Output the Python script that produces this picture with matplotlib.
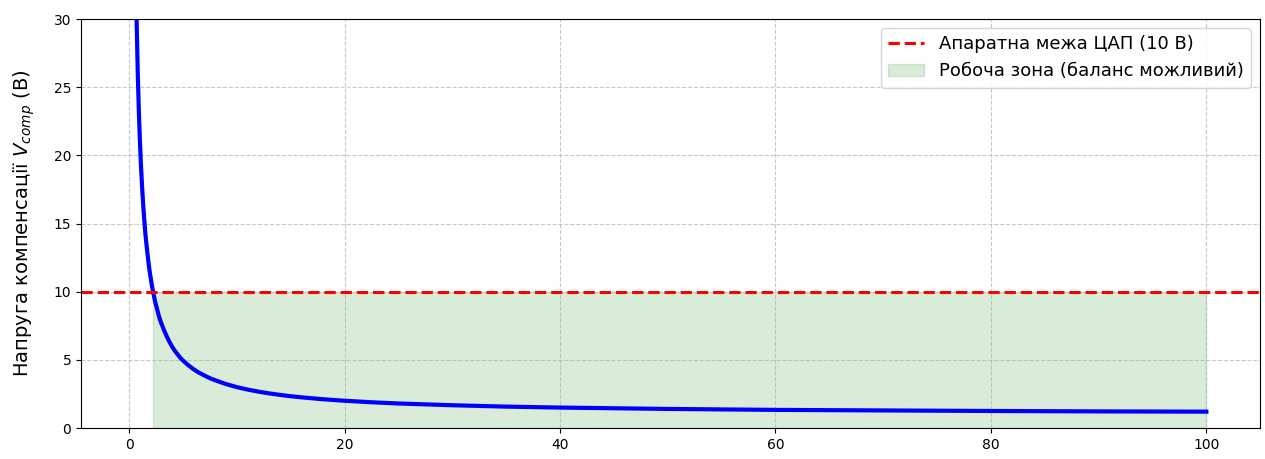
import matplotlib.pyplot as plt
import numpy as np

# values
gain = [0.5, 0.6, 0.7, 0.8, 0.9, 1.0, 1.1, 1.2, 1.3, 1.4, 1.5, 1.6, 1.7, 1.8, 1.9, 2.0, 2.1,
        2.22, 2.4, 2.6, 2.8, 3.0, 3.25, 3.5, 3.75, 4.0, 4.25, 4.5, 4.75, 5.0, 5.5, 6.0, 6.5,
        7.0, 7.5, 8.0, 9.0, 10, 11, 12, 13, 14, 15, 16, 18, 20, 22.5, 25, 30, 35, 40, 50,
        60, 70, 80, 90, 100]
v_comp = [41.0, 34.3, 29.6, 26.0, 23.2, 21.0, 19.2, 17.7, 16.4, 15.3, 14.3, 13.5, 12.8, 12.1,
          11.5, 11.0, 10.5, 10.0, 9.3, 8.7, 8.1, 7.65, 7.15, 6.7, 6.3, 5.95, 5.65, 5.4, 5.15,
          4.95, 4.6, 4.3, 4.05, 3.85, 3.65, 3.5, 3.22, 3.0, 2.82, 2.67, 2.54, 2.43, 2.33,
          2.25, 2.11, 2.0, 1.89, 1.8, 1.67, 1.57, 1.5, 1.4, 1.33, 1.29, 1.25, 1.22, 1.2]
dac_limit = 10

x = np.array(gain)
y = np.array(v_comp)

fig = plt.figure(figsize=(12.65, 4.59), dpi=100)
ax = fig.add_axes([0.064, 0.0675, 0.9320, 0.891])

ax.plot(x, y, color='blue', linewidth=3)
ax.axhline(dac_limit, color='red', linestyle='--', linewidth=2.2, label='Апаратна межа ЦАП (10 В)')
ax.fill_between(x, 0, dac_limit, where=(y <= dac_limit), color='green', alpha=0.15,
                label='Робоча зона (баланс можливий)')

ax.set_ylim(0, 30)
ax.set_ylabel('Напруга компенсації $V_{comp}$ (В)', fontsize=14, labelpad=12)
ax.grid(True, linestyle='--', alpha=0.7)
ax.legend(loc='upper right', fontsize=13)

plt.savefig('out.png')
